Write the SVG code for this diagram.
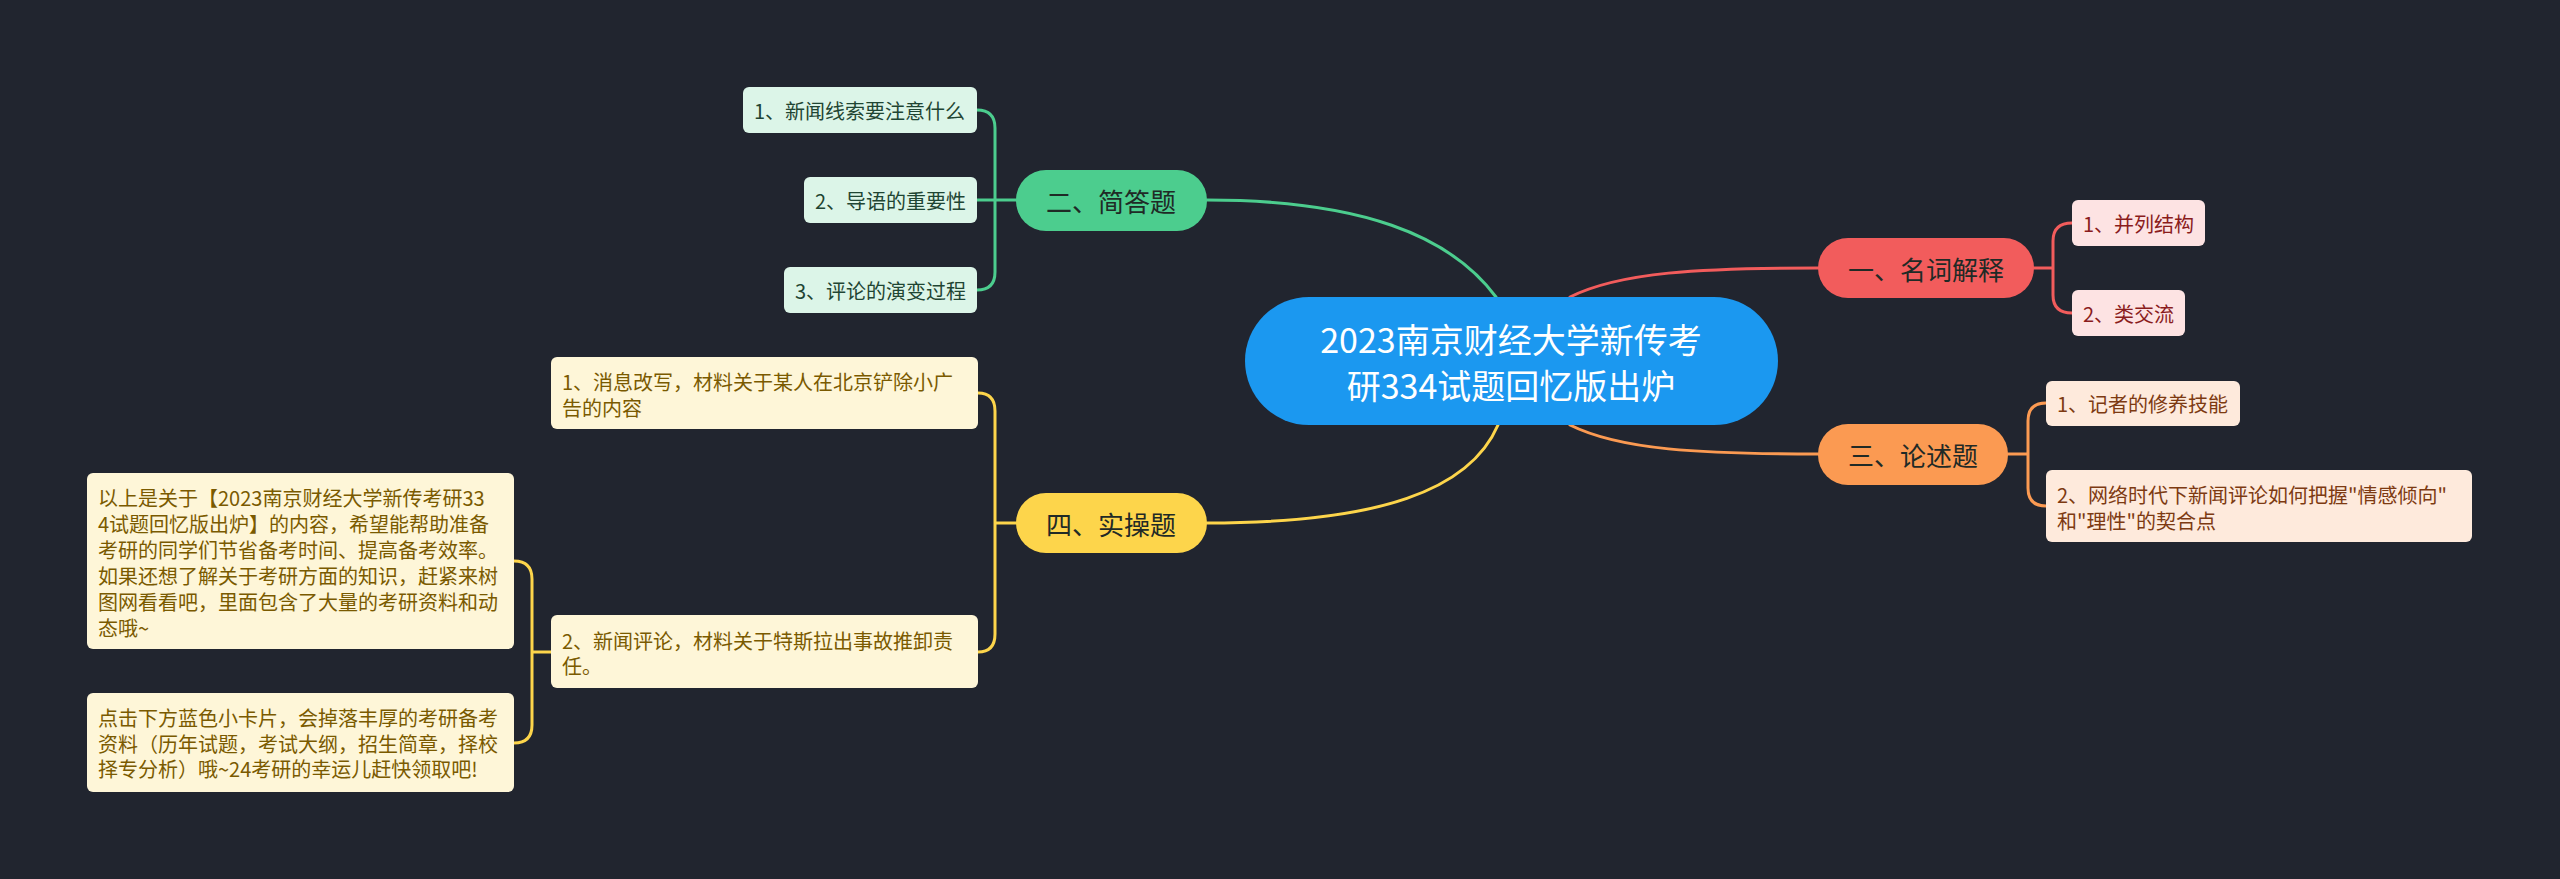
<svg xmlns="http://www.w3.org/2000/svg" width="2560" height="879" viewBox="0 0 2560 879">
<style>
text{font-family:"Noto Sans CJK SC","Noto Sans",sans-serif;dominant-baseline:central}
.leaf{font-size:20px}
.br{font-size:26px;text-anchor:middle;fill:#1f2a26}
.c{fill:none;stroke-width:3;stroke-linecap:round}
.g{stroke:#4ccd8e}.r{stroke:#f25c5c}.o{stroke:#fb9a52}.y{stroke:#fdd54b}
.gl{fill:#dcf5e8}.gt{fill:#1f4533}
.rl{fill:#fde3e3}.rt{fill:#8a1c1c}
.ol{fill:#feeadc}.ot{fill:#7d3a12}
.yl{fill:#fef6d8}.yt{fill:#7a5a00}
</style>
<rect width="2560" height="879" fill="#21252f"/>
<g id="connectors">
<path class="c g" d="M1207,200 C1360,200 1450,235 1496,297"/>
<path class="c y" d="M1207,523 C1380,523 1470,490 1498,425"/>
<path class="c r" d="M1570,297 C1620,272 1700,268 1818,268"/>
<path class="c o" d="M1570,425 C1620,450 1700,454 1818,454"/>
<path class="c g" d="M1016,200 L977,200 M977,110 Q995,110 995,128 L995,272 Q995,290 977,290"/>
<path class="c r" d="M2034,268 L2053,268 M2072,223 Q2053,223 2053,241 L2053,295 Q2053,313 2072,313"/>
<path class="c o" d="M2008,454 L2028,454 M2046,403 Q2028,403 2028,421 L2028,488 Q2028,506 2046,506"/>
<path class="c y" d="M1016,523 L995,523 M978,393 Q995,393 995,411 L995,634 Q995,652 978,652"/>
<path class="c y" d="M551,652 L532,652 M514,561 Q532,561 532,579 L532,725 Q532,743 514,743"/>
</g>
<g id="root">
<rect x="1245" y="297" width="533" height="128" rx="64" fill="#1b98f0"/>
<text x="1511" y="338" font-size="34" text-anchor="middle" fill="#ffffff">2023南京财经大学新传考</text>
<text x="1511" y="384" font-size="34" text-anchor="middle" fill="#ffffff">研334试题回忆版出炉</text>
</g>
<g id="b1">
<rect x="1818" y="238" width="216" height="60" rx="30" fill="#f25c5c"/>
<text class="br" x="1926" y="268">一、名词解释</text>
</g>
<g id="b1-1">
<rect class="rl" x="2072" y="200" width="133" height="46" rx="6"/>
<text class="leaf rt" x="2083" y="223">1、并列结构</text>
</g>
<g id="b1-2">
<rect class="rl" x="2072" y="290" width="113" height="46" rx="6"/>
<text class="leaf rt" x="2083" y="313">2、类交流</text>
</g>
<g id="b2">
<rect x="1016" y="170" width="191" height="61" rx="30" fill="#4ccd8e"/>
<text class="br" x="1111" y="200">二、简答题</text>
</g>
<g id="b2-1">
<rect class="gl" x="743" y="87" width="234" height="46" rx="6"/>
<text class="leaf gt" x="754" y="110">1、新闻线索要注意什么</text>
</g>
<g id="b2-2">
<rect class="gl" x="804" y="177" width="173" height="46" rx="6"/>
<text class="leaf gt" x="815" y="200">2、导语的重要性</text>
</g>
<g id="b2-3">
<rect class="gl" x="784" y="267" width="193" height="46" rx="6"/>
<text class="leaf gt" x="795" y="290">3、评论的演变过程</text>
</g>
<g id="b3">
<rect x="1818" y="424" width="190" height="61" rx="30" fill="#fb9a52"/>
<text class="br" x="1913" y="454">三、论述题</text>
</g>
<g id="b3-1">
<rect class="ol" x="2046" y="381" width="194" height="45" rx="6"/>
<text class="leaf ot" x="2057" y="403">1、记者的修养技能</text>
</g>
<g id="b3-2">
<rect class="ol" x="2046" y="470" width="426" height="72" rx="6"/>
<text class="leaf ot" x="2057" y="494">2、网络时代下新闻评论如何把握"情感倾向"</text>
<text class="leaf ot" x="2057" y="520">和"理性"的契合点</text>
</g>
<g id="b4">
<rect x="1016" y="493" width="191" height="60" rx="30" fill="#fdd54b"/>
<text class="br" x="1111" y="523">四、实操题</text>
</g>
<g id="b4-1">
<rect class="yl" x="551" y="357" width="427" height="72" rx="6"/>
<text class="leaf yt" x="562" y="381">1、消息改写，材料关于某人在北京铲除小广</text>
<text class="leaf yt" x="562" y="407">告的内容</text>
</g>
<g id="b4-2">
<rect class="yl" x="551" y="615" width="427" height="73" rx="6"/>
<text class="leaf yt" x="562" y="640">2、新闻评论，材料关于特斯拉出事故推卸责</text>
<text class="leaf yt" x="562" y="665">任。</text>
</g>
<g id="b4-2-1">
<rect class="yl" x="87" y="473" width="427" height="176" rx="6"/>
<text class="leaf yt" x="98" y="497">以上是关于【2023南京财经大学新传考研33</text>
<text class="leaf yt" x="98" y="523">4试题回忆版出炉】的内容，希望能帮助准备</text>
<text class="leaf yt" x="98" y="549">考研的同学们节省备考时间、提高备考效率。</text>
<text class="leaf yt" x="98" y="575">如果还想了解关于考研方面的知识，赶紧来树</text>
<text class="leaf yt" x="98" y="601">图网看看吧，里面包含了大量的考研资料和动</text>
<text class="leaf yt" x="98" y="627">态哦~</text>
</g>
<g id="b4-2-2">
<rect class="yl" x="87" y="693" width="427" height="99" rx="6"/>
<text class="leaf yt" x="98" y="717">点击下方蓝色小卡片，会掉落丰厚的考研备考</text>
<text class="leaf yt" x="98" y="743">资料（历年试题，考试大纲，招生简章，择校</text>
<text class="leaf yt" x="98" y="768">择专分析）哦~24考研的幸运儿赶快领取吧!</text>
</g>
</svg>
